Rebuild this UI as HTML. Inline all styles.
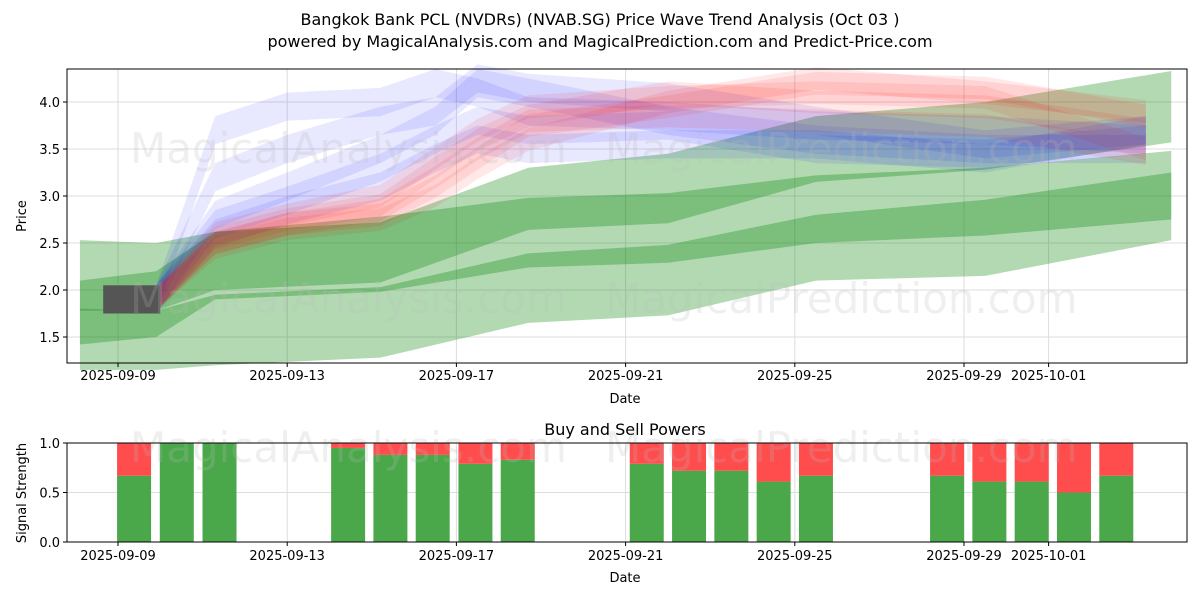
<!DOCTYPE html>
<html><head><meta charset="utf-8"><style>
body{margin:0;background:#fff}
svg text{font-family:"DejaVu Sans","Liberation Sans",sans-serif}
</style></head><body>
<svg id="c" width="1200" height="600" xmlns="http://www.w3.org/2000/svg">
<text x="600" y="25" text-anchor="middle" font-size="16">Bangkok Bank PCL (NVDRs) (NVAB.SG) Price Wave Trend Analysis (Oct 03 )</text>
<text x="600" y="47" text-anchor="middle" font-size="16">powered by MagicalAnalysis.com and MagicalPrediction.com and Predict-Price.com</text>
<text x="625" y="435" text-anchor="middle" font-size="16">Buy and Sell Powers</text>
<g id="grid1"></g><g id="green"></g><g id="waves"></g><g id="grid2"></g><g id="bars"></g>
<g fill="#bbb" opacity="0.22" font-size="42">
<text x="130" y="163">MagicalAnalysis.com</text><text x="605" y="163">MagicalPrediction.com</text>
<text x="130" y="313">MagicalAnalysis.com</text><text x="605" y="313">MagicalPrediction.com</text>
<text x="130" y="462">MagicalAnalysis.com</text><text x="605" y="462">MagicalPrediction.com</text>
</g>
<rect x="67" y="69" width="1120" height="294" fill="none" stroke="#000"/>
<rect x="67" y="443" width="1120" height="99" fill="none" stroke="#000"/>
<g id="ticks"></g>
<text x="625" y="403" text-anchor="middle" font-size="13">Date</text>
<text x="625" y="582" text-anchor="middle" font-size="13">Date</text>
<text transform="translate(26,216) rotate(-90)" text-anchor="middle" font-size="13">Price</text>
<text transform="translate(26,493) rotate(-90)" text-anchor="middle" font-size="13">Signal Strength</text>
</svg>
<script>
const tickDays=[0,4,8,12,16,20,22];
const tickLabels=["2025-09-09","2025-09-13","2025-09-17","2025-09-21","2025-09-25","2025-09-29","2025-10-01"];
const priceTicks=[1.5,2.0,2.5,3.0,3.5,4.0];
const powerTicks=[0,0.5,1.0];
const gKnots=[-0.9,0.9,2.3,6.2,9.7,13,16.5,20.5,24.9];
const g1Top=[2.53,2.5,2.62,2.72,3.3,3.45,3.85,4.0,4.33];
const g1Bot=[1.78,1.78,2.0,2.08,2.64,2.71,3.15,3.28,3.57];
const g2Top=[2.1,2.2,2.62,2.78,2.98,3.03,3.22,3.3,3.48];
const g2Bot=[1.42,1.5,1.9,1.98,2.24,2.29,2.5,2.58,2.75];
const g3Top=[1.8,1.78,1.95,2.03,2.39,2.48,2.8,2.96,3.25];
const g3Bot=[1.15,1.15,1.2,1.28,1.65,1.73,2.1,2.15,2.53];
const wKnots=[0.9,2.3,4,6.2,7.5,8.5,9.7,13,16.5,20.5,24.3];
const blue1=[1.9,3.7,3.95,4.0,4.2,4.1,3.9,3.85,3.75,3.7,3.6];
const blue2=[1.9,3.2,3.5,3.8,3.9,4.25,4.15,4.05,3.8,3.55,3.7];
const blue3=[1.9,2.8,3.1,3.5,3.8,4.2,4.1,3.8,3.6,3.5,3.5];
const blue4=[1.9,2.7,2.95,3.3,3.6,3.8,3.7,3.75,3.5,3.45,3.6];
const blue5=[1.9,2.6,2.85,3.1,3.4,3.6,3.5,3.55,3.55,3.4,3.7];
const red1=[1.9,2.5,2.7,2.8,3.1,3.4,3.75,3.95,4.2,4.15,3.85];
const red2=[1.9,2.55,2.75,2.9,3.3,3.6,3.85,4.1,4.0,3.95,3.7];
const red3=[1.9,2.6,2.8,3.0,3.4,3.7,3.95,4.05,4.1,4.05,3.5];
const red4=[1.9,2.45,2.65,2.75,3.0,3.3,3.6,4.0,4.25,4.1,3.9];
const red5=[1.9,2.5,2.7,2.85,3.2,3.5,3.8,3.85,3.8,3.75,3.45];
const barDays=[0.38,1.39,2.4,5.44,6.44,7.44,8.45,9.45,12.5,13.5,14.5,15.5,16.5,19.6,20.6,21.6,22.6,23.6];
const buyPower=[0.67,1,1,0.95,0.88,0.88,0.79,0.83,0.79,0.72,0.72,0.61,0.67,0.67,0.61,0.61,0.5,0.67];
const NS="http://www.w3.org/2000/svg";
const X=d=>118+d*42.3, Y=v=>102+(4-v)*94, Y2=v=>542-v*99;
function mk(tag,attrs,parent){const e=document.createElementNS(NS,tag);for(const k in attrs)e.setAttribute(k,attrs[k]);document.getElementById(parent).appendChild(e);return e;}
function band(k,top,bot,fill,op,parent,name){
 let p=k.map((d,i)=>X(d)+","+Y(top[i]));
 for(let i=k.length-1;i>=0;i--)p.push(X(k[i])+","+Y(bot[i]));
 const e=mk("polygon",{points:p.join(" "),fill:fill,"fill-opacity":op},parent);
 
 
}
tickDays.forEach(d=>{mk("line",{x1:X(d),x2:X(d),y1:69,y2:363,stroke:"#ddd"},"grid1");mk("line",{x1:X(d),x2:X(d),y1:443,y2:542,stroke:"#ddd"},"grid2");});
priceTicks.forEach(v=>mk("line",{x1:67,x2:1187,y1:Y(v),y2:Y(v),stroke:"#ddd"},"grid1"));
powerTicks.forEach(v=>mk("line",{x1:67,x2:1187,y1:Y2(v),y2:Y2(v),stroke:"#ddd"},"grid2"));
band(gKnots,g1Top,g1Bot,"#008000",0.3,"green","green-band-upper");
band(gKnots,g2Top,g2Bot,"#008000",0.3,"green","green-band-middle");
band(gKnots,g3Top,g3Bot,"#008000",0.3,"green","green-band-lower");
[blue1,blue2,blue3,blue4,blue5].forEach((s,i)=>band(wKnots,s.map(v=>v+0.15),s.map(v=>v-0.15),"#0000ff",0.09,"waves","blue-wave-"+(i+1)));
[red1,red2,red3,red4,red5].forEach((s,i)=>band(wKnots,s.map(v=>v+0.12),s.map(v=>v-0.12),"#ff0000",0.09,"waves","red-wave-"+(i+1)));
const r=mk("rect",{x:X(-0.35),y:Y(2.05),width:X(1.0)-X(-0.35),height:Y(1.75)-Y(2.05),fill:"#555"},"waves");


barDays.forEach((d,i)=>{const x=X(d)-17;
 const g=mk("rect",{x:x,y:Y2(buyPower[i]),width:34,height:Y2(0)-Y2(buyPower[i]),fill:"#4aa84a"},"bars");
 
 
 const s=mk("rect",{x:x,y:Y2(1),width:34,height:Y2(buyPower[i])-Y2(1),fill:"#ff4c4c"},"bars");
 
 
});
tickDays.forEach((d,i)=>{[[363,380],[542,560]].forEach(([y,ty])=>{
 mk("line",{x1:X(d),x2:X(d),y1:y,y2:y+4,stroke:"#000"},"ticks");
 const t=mk("text",{x:X(d),y:ty,"text-anchor":"middle","font-size":13},"ticks");t.textContent=tickLabels[i];
 
 
});});
priceTicks.forEach(v=>{mk("line",{x1:63,x2:67,y1:Y(v),y2:Y(v),stroke:"#000"},"ticks");
 const t=mk("text",{x:60,y:Y(v)+5,"text-anchor":"end","font-size":13},"ticks");t.textContent=v.toFixed(1);
 
 });
powerTicks.forEach(v=>{mk("line",{x1:63,x2:67,y1:Y2(v),y2:Y2(v),stroke:"#000"},"ticks");
 const t=mk("text",{x:60,y:Y2(v)+5,"text-anchor":"end","font-size":13},"ticks");t.textContent=v.toFixed(1);
 
 });
</script>
</body></html>
